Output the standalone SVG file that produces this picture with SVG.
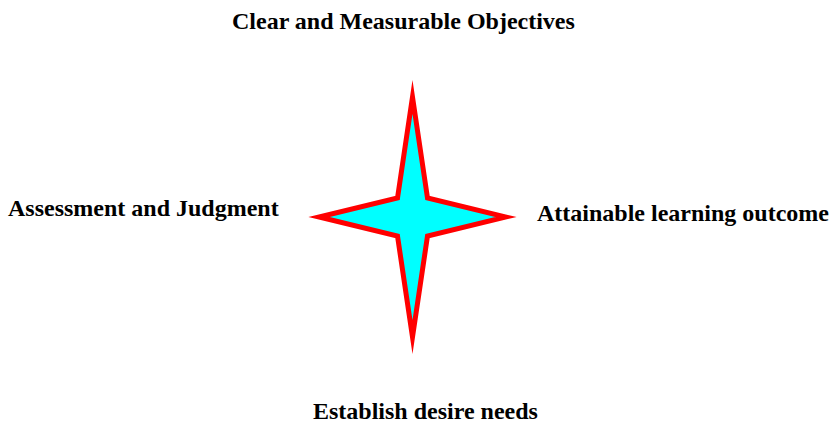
<svg xmlns="http://www.w3.org/2000/svg" width="830" height="424" viewBox="0 0 830 424">
<style>
.lbl{font-family:"Liberation Serif","Times New Roman",serif;font-weight:bold;font-size:24px;fill:#000}
.star{fill:#00FFFF;stroke:#FF0000;stroke-width:5;stroke-miterlimit:30;stroke-linejoin:miter}
</style>
<rect width="830" height="424" fill="#fff"/>
<g id="star">
<path class="star" d="M412.5,97 L427.5,198 L506,217 L427.5,236 L412.5,337 L397.5,236 L319,217 L397.5,198 Z"/>
</g>
<g id="top"><text class="lbl" x="232" y="29">Clear and Measurable Objectives</text></g>
<g id="left"><text class="lbl" x="8" y="216">Assessment and Judgment</text></g>
<g id="right"><text class="lbl" x="537" y="221">Attainable learning outcome</text></g>
<g id="bottom"><text class="lbl" x="313" y="419">Establish desire needs</text></g>
<g id="connectors"/>
</svg>
